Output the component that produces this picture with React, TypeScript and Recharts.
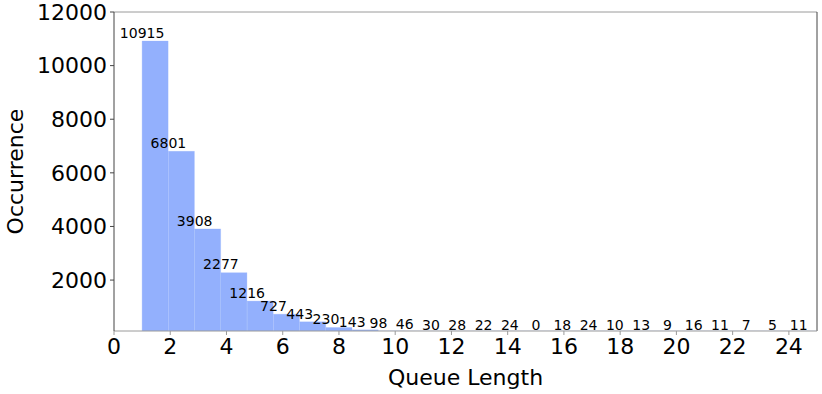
import React from 'react';
import { BarChart, Bar, XAxis, YAxis, LabelList, ReferenceLine, Label } from 'recharts';

// Histogram of queue lengths
const occurrences = [
  10915, 6801, 3908, 2277, 1216, 727, 443, 230, 143, 98, 46, 30, 28,
  22, 24, 0, 18, 24, 10, 13, 9, 16, 11, 7, 5, 11,
];
const binStart = 1;
const binWidth = 0.934;
const xTicks = [0, 2, 4, 6, 8, 10, 12, 14, 16, 18, 20, 22, 24];
const yTicks = [2000, 4000, 6000, 8000, 10000, 12000];
const xDomain = [0, 25];
const yDomain = [100, 12000];

const data = occurrences.map((count, i) => ({
  bin: binStart + (i + 0.5) * binWidth,
  count,
}));

const FONT = 'DejaVu Sans, sans-serif';
const BAR_COLOR = '#93b0fd';
const DARK_SPINE = '#444';
const LIGHT_SPINE = '#9a9a9a';

const BarValueLabel = (props: any) => {
  const vb = props.viewBox || {};
  const x = props.x ?? vb.x;
  const y = props.y ?? vb.y;
  const h = Number(props.height ?? vb.height) || 0;
  if (x == null || y == null) return null;
  const v = Number(props.value);
  const anchor = v >= yDomain[0] ? Math.min(y, y + h) : Math.max(y, y + h);
  return (
    <text
      x={x}
      y={anchor - 3.3}
      textAnchor="middle"
      fontSize={14}
      fontFamily={FONT}
      fill="#000"
    >
      {v}
    </text>
  );
};

const YTitle = (props: any) => {
  const vb = props.viewBox || {};
  const cx = (vb.x ?? 0) + 23;
  const cy = (vb.y ?? 0) + (vb.height ?? 0) / 2;
  return (
    <text
      x={cx}
      y={cy}
      transform={`rotate(-90, ${cx}, ${cy})`}
      textAnchor="middle"
      fontSize={22}
      fontFamily={FONT}
      fill="#000"
    >
      Occurrence
    </text>
  );
};

const XTitle = (props: any) => {
  const vb = props.viewBox || {};
  const cx = (vb.x ?? 0) + (vb.width ?? 0) / 2;
  const cy = (vb.y ?? 0) + 54;
  return (
    <text x={cx} y={cy} textAnchor="middle" fontSize={22} fontFamily={FONT} fill="#000">
      Queue Length
    </text>
  );
};

export default function App() {
  return (
    <div style={{ position: 'absolute', left: 0, top: 0, width: 822, height: 394, background: '#fff' }}>
      <BarChart
        width={822}
        height={394}
        data={data}
        margin={{ top: 12, right: 5, bottom: 0, left: 0 }}
        barCategoryGap={0}
        barGap={0}
      >
        <XAxis
          dataKey="bin"
          type="number"
          domain={xDomain}
          ticks={xTicks}
          allowDataOverflow
          height={63}
          interval={0}
          tickSize={4}
          tickMargin={3}
          tick={{ fontSize: 22, fontFamily: FONT, fill: '#000' }}
          tickLine={{ stroke: LIGHT_SPINE }}
          axisLine={{ stroke: LIGHT_SPINE }}
        >
          <Label content={<XTitle />} />
        </XAxis>
        <YAxis
          type="number"
          domain={yDomain}
          ticks={yTicks}
          allowDataOverflow
          width={114}
          interval={0}
          tickSize={4}
          tickMargin={3}
          tick={{ fontSize: 22, fontFamily: FONT, fill: '#000' }}
          tickLine={{ stroke: DARK_SPINE }}
          axisLine={{ stroke: DARK_SPINE }}
        >
          <Label content={<YTitle />} />
        </YAxis>
        <ReferenceLine y={yDomain[1]} stroke={LIGHT_SPINE} />
        <ReferenceLine x={xDomain[1]} stroke={DARK_SPINE} />
        <Bar
          dataKey="count"
          fill={BAR_COLOR}
          stroke={BAR_COLOR}
          strokeWidth={0.3}
          isAnimationActive={false}
        >
          <LabelList dataKey="count" content={<BarValueLabel />} />
        </Bar>
      </BarChart>
    </div>
  );
}
